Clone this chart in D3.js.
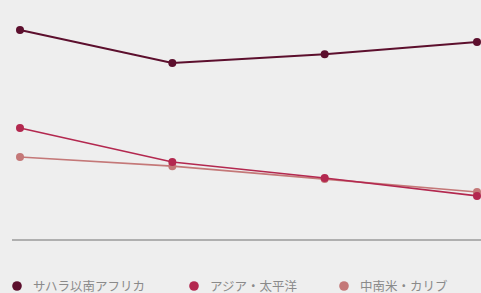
<!DOCTYPE html>
<html>
<head>
<meta charset="utf-8">
<script src="https://cdn.jsdelivr.net/npm/d3@7"></script>
<style>
    body { margin: 0; background: #eeeeee; }
    #chart { width: 481px; height: 293px; }
</style>
</head>
<body>
<div id="chart"></div>
<script>
// chart data
let years = ["2000", "2005", "2010", "2015"];
let seriesNames = ["サハラ以南アフリカ", "アジア・太平洋", "中南米・カリブ"];
let africa = [60.0, 50.6, 53.1, 56.6];
let asia = [32.0, 22.3, 17.7, 12.6];
let latam = [23.7, 21.1, 17.4, 13.7];
let colors = ["#5c0f2d", "#b3284f", "#c47878"];

let width = 481, height = 293;

let svg = d3.select("#chart").append("svg")
    .attr("width", width)
    .attr("height", height);

let x = d3.scalePoint()
    .domain(years)
    .range([20, 477]);

let y = d3.scaleLinear()
    .domain([0, 60])
    .range([240, 30]);

// baseline
svg.append("line")
    .attr("x1", 12)
    .attr("x2", width)
    .attr("y1", y(0))
    .attr("y2", y(0))
    .attr("stroke", "#9a9a9a")
    .attr("stroke-width", 1.5);

let allSeries = [africa, asia, latam];

let line = d3.line()
    .x((d, i) => x(years[i]))
    .y(d => y(d));

// draw back to front so the dark line sits on top
[2, 1, 0].forEach(k => {
    let g = svg.append("g");
    g.append("path")
        .datum(allSeries[k])
        .attr("fill", "none")
        .attr("stroke", colors[k])
        .attr("stroke-width", k == 0 ? 2 : 1.6)
        .attr("d", line);
    g.selectAll("circle")
        .data(allSeries[k])
        .enter().append("circle")
        .attr("cx", (d, i) => x(years[i]))
        .attr("cy", d => y(d))
        .attr("r", 4)
        .attr("fill", colors[k]);
});

// legend
let legendX = [17, 194, 344];
let legend = svg.selectAll(".legend")
    .data(seriesNames)
    .enter().append("g")
    .attr("class", "legend")
    .attr("transform", (d, i) => "translate(" + legendX[i] + ",286)");

legend.append("circle")
    .attr("r", 4.8)
    .attr("fill", (d, i) => colors[i]);

legend.append("text")
    .attr("x", 16)
    .attr("y", 4.5)
    .attr("font-family", "Noto Sans CJK JP")
    .attr("font-size", 12.5)
    .attr("fill", "#8a8a8a")
    .text(d => d);
</script>
</body>
</html>
